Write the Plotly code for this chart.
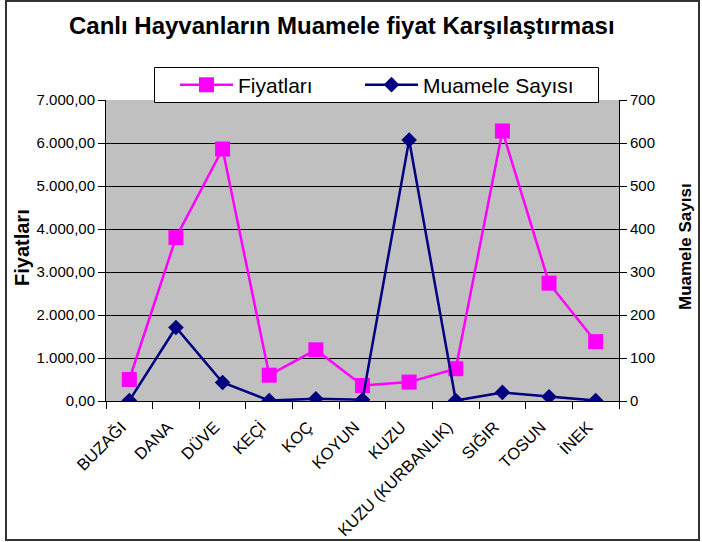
import plotly.graph_objects as go

categories = ["BUZAĞI", "DANA", "DÜVE", "KEÇİ", "KOÇ", "KOYUN", "KUZU",
              "KUZU (KURBANLIK)", "SIĞIR", "TOSUN", "İNEK"]
fiyatlari = [500, 3800, 5860, 600, 1190, 360, 440, 750, 6280, 2740, 1380]
muamele = [1, 171, 43, 1, 5, 3, 607, 1, 20, 10, 1]

left_ticks = [0, 1000, 2000, 3000, 4000, 5000, 6000, 7000]
right_ticks = [0, 100, 200, 300, 400, 500, 600, 700]

FONT = "Arial, 'Liberation Sans', sans-serif"
W, H = 702, 542
L, R, T, B = 106, 83, 100, 141
PW, PH = W - L - R, H - T - B


def px_x(x):
    return (x - L) / PW


def px_y(y):
    return (H - B - y) / PH


fig = go.Figure()
fig.add_trace(go.Scatter(
    x=categories, y=fiyatlari, name="Fiyatları", mode="lines+markers",
    line=dict(color="#FF00FF", width=2.5),
    marker=dict(symbol="square", size=15, color="#FF00FF"),
    yaxis="y", legend="legend"))
fig.add_trace(go.Scatter(
    x=categories, y=muamele, name="Muamele Sayısı", mode="lines+markers",
    line=dict(color="#000080", width=2.5),
    marker=dict(symbol="diamond", size=12, color="#000080"),
    yaxis="y2", legend="legend2"))

legend_common = dict(
    orientation="h", xanchor="left", yanchor="middle",
    bgcolor="rgba(0,0,0,0)", borderwidth=0,
    font=dict(family=FONT, size=21, color="black"), itemwidth=53,
)

fig.update_layout(
    width=W, height=H,
    margin=dict(l=L, r=R, t=T, b=B, autoexpand=False),
    paper_bgcolor="white", plot_bgcolor="#C0C0C0",
    separators=",.",
    font=dict(family=FONT, size=15, color="black"),
    showlegend=True,
    hovermode=False,
    legend=dict(x=px_x(175), y=px_y(85), **legend_common),
    legend2=dict(x=px_x(360), y=px_y(85), **legend_common),
    xaxis=dict(
        type="category", range=[-0.5, len(categories) - 0.5],
        tickson="boundaries", ticks="outside", ticklen=7, tickcolor="black",
        showline=True, linecolor="black", linewidth=1, showgrid=False,
        tickangle=-45, tickfont=dict(family=FONT, size=16.5),
        ticklabelstandoff=9, ticklabelshift=-8, automargin=False,
    ),
    yaxis=dict(
        range=[0, 7000], tickvals=left_ticks, tickformat=",.2f",
        ticks="outside", ticklen=7, tickcolor="black",
        showline=True, linecolor="black", linewidth=1,
        showgrid=True, gridcolor="black", gridwidth=1,
        zeroline=False, tickfont=dict(family=FONT, size=15),
        automargin=False,
    ),
    yaxis2=dict(
        range=[0, 700], tickvals=right_ticks, overlaying="y", side="right",
        ticks="outside", ticklen=7, tickcolor="black",
        showline=True, linecolor="black", linewidth=1,
        showgrid=False, zeroline=False, tickfont=dict(family=FONT, size=15),
        automargin=False,
    ),
    annotations=[
        dict(text="<b>Canlı Hayvanların Muamele fiyat Karşılaştırması</b>",
             xref="paper", yref="paper", x=px_x(342), y=px_y(25),
             xanchor="center", yanchor="middle", showarrow=False,
             font=dict(family=FONT, size=24, color="black")),
        dict(text="<b>Fiyatları</b>", xref="paper", yref="paper",
             x=px_x(22), y=px_y(248),
             xanchor="center", yanchor="middle", textangle=-90, showarrow=False,
             font=dict(family=FONT, size=20, color="black")),
        dict(text="<b>Muamele Sayısı</b>", xref="paper", yref="paper",
             x=px_x(685), y=px_y(247),
             xanchor="center", yanchor="middle", textangle=-90, showarrow=False,
             font=dict(family=FONT, size=17, color="black")),
    ],
    shapes=[
        dict(type="rect", xref="paper", yref="paper",
             x0=px_x(6), x1=px_x(699), y0=px_y(540), y1=px_y(1),
             line=dict(color="#333333", width=2), layer="below"),
        dict(type="rect", xref="paper", yref="paper",
             x0=px_x(154.5), x1=px_x(598.5), y0=px_y(102.5), y1=px_y(67.5),
             fillcolor="white", line=dict(color="black", width=1),
             layer="above"),
    ],
)

fig.write_html("out.html",
               config={"displayModeBar": False, "staticPlot": True},
               post_script="document.body.style.margin='0';"
                           "document.body.style.overflow='hidden';")
